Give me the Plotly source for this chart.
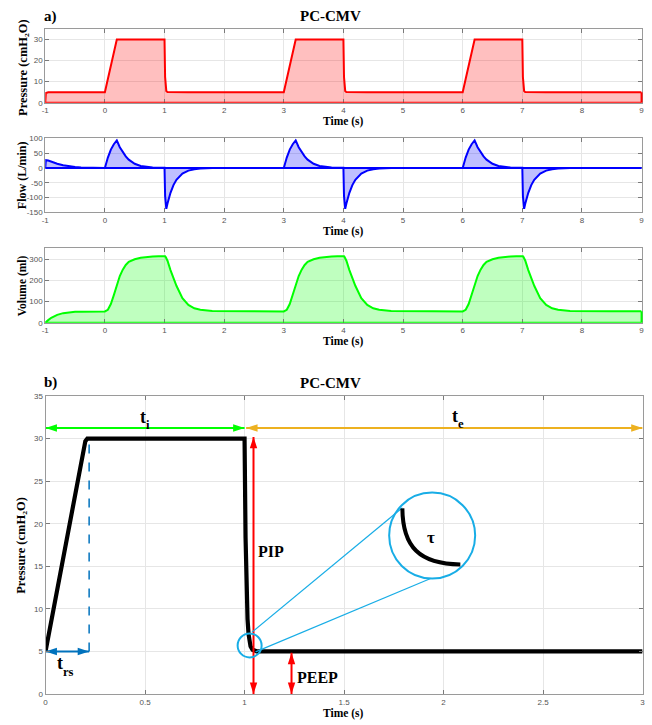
import plotly.graph_objects as go

# ---------------- Data: panel a (PC-CMV waveforms, 3 breaths) ----------------
time_a = [
    -1.00, -0.99, -0.95, -0.90, -0.80, -0.70, -0.60, -0.50, -0.40, -0.20,
    0.00, 0.05, 0.10, 0.15, 0.20, 0.25, 0.30, 0.35, 0.40, 0.50, 0.60, 0.70, 0.80, 0.90,
    1.00, 1.01, 1.02, 1.03, 1.05, 1.10, 1.15, 1.20, 1.30, 1.40, 1.50, 1.60, 1.80, 2.00, 2.50,
    3.00, 3.05, 3.10, 3.15, 3.20, 3.25, 3.30, 3.35, 3.40, 3.50, 3.60, 3.70, 3.80, 3.90,
    4.00, 4.01, 4.02, 4.03, 4.05, 4.10, 4.15, 4.20, 4.30, 4.40, 4.50, 4.60, 4.80, 5.00, 5.50,
    6.00, 6.05, 6.10, 6.15, 6.20, 6.25, 6.30, 6.35, 6.40, 6.50, 6.60, 6.70, 6.80, 6.90,
    7.00, 7.01, 7.02, 7.03, 7.05, 7.10, 7.15, 7.20, 7.30, 7.40, 7.50, 7.60, 7.80, 8.00, 8.50,
    9.00,
]
pressure_a = [
    0, 4.6, 5, 5, 5, 5, 5, 5, 5, 5,
    5, 11.25, 17.5, 23.75, 30, 30, 30, 30, 30, 30, 30, 30, 30, 30,
    30, 12.2, 7.0, 5.6, 5.05, 5, 5, 5, 5, 5, 5, 5, 5, 5, 5,
    5, 11.25, 17.5, 23.75, 30, 30, 30, 30, 30, 30, 30, 30, 30, 30,
    30, 12.2, 7.0, 5.6, 5.05, 5, 5, 5, 5, 5, 5, 5, 5, 5, 5,
    5, 11.25, 17.5, 23.75, 30, 30, 30, 30, 30, 30, 30, 30, 30, 30,
    30, 12.2, 7.0, 5.6, 5.05, 5, 5, 5, 5, 5, 5, 5, 5, 5, 5,
    5,
]
flow_a = [
    0, 26, 25, 21, 14, 9, 5.5, 3, 1.6, 0.4,
    0, 35, 62, 80, 93, 70, 52, 39, 28, 14, 6.5, 3, 1.4, 0.6,
    0.3, -95, -130, -138, -120, -84, -58, -40, -19, -9, -4.5, -2.1, -0.5, -0.1, 0,
    0, 35, 62, 80, 93, 70, 52, 39, 28, 14, 6.5, 3, 1.4, 0.6,
    0.3, -95, -130, -138, -120, -84, -58, -40, -19, -9, -4.5, -2.1, -0.5, -0.1, 0,
    0, 35, 62, 80, 93, 70, 52, 39, 28, 14, 6.5, 3, 1.4, 0.6,
    0.3, -95, -130, -138, -120, -84, -58, -40, -19, -9, -4.5, -2.1, -0.5, -0.1, 0,
    0,
]
volume_a = [
    0, 3, 12, 23, 37, 45, 49, 51, 52, 53,
    53, 61, 88, 130, 180, 220, 250, 272, 287, 299, 306, 310, 312, 313.5,
    315, 313, 309, 304, 292, 248, 212, 174, 115, 84, 68, 61, 55.5, 54, 53.5,
    53, 61, 88, 130, 180, 220, 250, 272, 287, 299, 306, 310, 312, 313.5,
    315, 313, 309, 304, 292, 248, 212, 174, 115, 84, 68, 61, 55.5, 54, 53.5,
    53, 61, 88, 130, 180, 220, 250, 272, 287, 299, 306, 310, 312, 313.5,
    315, 313, 309, 304, 292, 248, 212, 174, 115, 84, 68, 61, 55.5, 54, 53.5,
    53.5,
]

# ---------------- Data: panel b (one breath, pressure) ----------------
time_b = [0.00, 0.05, 0.10, 0.15, 0.19, 0.20, 0.21, 0.50, 1.00, 1.005, 1.01,
          1.015, 1.02, 1.025, 1.03, 1.04, 1.05, 1.06, 1.10, 2.00, 3.00]
pressure_b = [5, 11.25, 17.5, 23.75, 28.8, 29.7, 30, 30, 30, 18.4, 12.2,
              8.8, 7.05, 6.1, 5.6, 5.2, 5.05, 5.02, 5, 5, 5]

# ---------------- Tick labels ----------------
xticks_a = [-1, 0, 1, 2, 3, 4, 5, 6, 7, 8, 9]
xticklabels_a = ["-1", "0", "1", "2", "3", "4", "5", "6", "7", "8", "9"]
pticks_a = [0, 10, 20, 30]
pticklabels_a = ["0", "10", "20", "30"]
fticks_a = [-150, -100, -50, 0, 50, 100]
fticklabels_a = ["-150", "-100", "-50", "0", "50", "100"]
vticks_a = [0, 100, 200, 300]
vticklabels_a = ["0", "100", "200", "300"]
xticks_b = [0, 0.5, 1, 1.5, 2, 2.5, 3]
xticklabels_b = ["0", "0.5", "1", "1.5", "2", "2.5", "3"]
yticks_b = [0, 5, 10, 15, 20, 25, 30, 35]
yticklabels_b = ["0", "5", "10", "15", "20", "25", "30", "35"]

# ---------------- Figure ----------------
W, H = 652, 725
SERIF = "Liberation Serif, Times New Roman, serif"
SANS = "Liberation Sans, Arial, sans-serif"

fig = go.Figure()


def px_x(p):
    return p / W


def px_y(p):
    return 1 - p / H


common = dict(mode="lines", hoverinfo="skip", showlegend=False, fill="tozeroy")
fig.add_trace(go.Scatter(x=time_a, y=pressure_a, line=dict(color="#ff0000", width=2),
                         fillcolor="rgba(255,0,0,0.25)", xaxis="x", yaxis="y", **common))
fig.add_trace(go.Scatter(x=time_a, y=flow_a, line=dict(color="#0000ff", width=2),
                         fillcolor="rgba(0,0,255,0.25)", xaxis="x2", yaxis="y2", **common))
fig.add_trace(go.Scatter(x=time_a, y=volume_a, line=dict(color="#00ff00", width=2),
                         fillcolor="rgba(0,255,0,0.25)", xaxis="x3", yaxis="y3", **common))
fig.add_trace(go.Scatter(x=time_b, y=pressure_b, mode="lines", hoverinfo="skip", showlegend=False,
                         line=dict(color="#000000", width=4.2), xaxis="x4", yaxis="y4"))


def axis(domain, rng, vals, text, anchor):
    return dict(domain=domain, range=rng, anchor=anchor, tickmode="array", tickvals=vals,
                ticktext=text, showgrid=True, gridcolor="#e6e6e6", gridwidth=1, zeroline=False,
                showline=True, linecolor="#9a9a9a", linewidth=1, mirror="ticks", ticks="inside",
                ticklen=4, tickcolor="#7a7a7a", tickfont=dict(family=SANS, size=8, color="#555555"),
                fixedrange=True)


xa_dom = [px_x(41.7), px_x(644.5)]
xb_dom = [px_x(42.0), px_x(645.5)]
fig.update_layout(
    width=W, height=H, margin=dict(l=0, r=0, t=0, b=0),
    paper_bgcolor="white", plot_bgcolor="white",
    xaxis=axis(xa_dom, [-1, 9], xticks_a, xticklabels_a, "y"),
    yaxis=axis([px_y(100), px_y(25.3)], [0, 35], pticks_a, pticklabels_a, "x"),
    xaxis2=axis(xa_dom, [-1, 9], xticks_a, xticklabels_a, "y2"),
    yaxis2=axis([px_y(211), px_y(136)], [-150, 100], fticks_a, fticklabels_a, "x2"),
    xaxis3=axis(xa_dom, [-1, 9], xticks_a, xticklabels_a, "y3"),
    yaxis3=axis([px_y(322.7), px_y(247.5)], [0, 350], vticks_a, vticklabels_a, "x3"),
    xaxis4=axis(xb_dom, [0, 3], xticks_b, xticklabels_b, "y4"),
    yaxis4=axis([px_y(698.7), px_y(397)], [0, 35], yticks_b, yticklabels_b, "x4"),
)

# area edges (baseline and right closing edge) like MATLAB area()
for xr, yr, col, series in [("x", "y", "#ff0000", pressure_a), ("x2", "y2", "#0000ff", flow_a),
                            ("x3", "y3", "#00ff00", volume_a)]:
    fig.add_shape(type="line", xref=f"{xr} domain", yref=yr, x0=0, x1=1, y0=0, y1=0,
                  line=dict(color=col, width=2))
    fig.add_shape(type="line", xref=f"{xr} domain", yref=yr, x0=1, x1=1, y0=0, y1=series[-1],
                  line=dict(color=col, width=2))

CYAN = "#18ade6"
BLUE = "#0072BD"
# dashed rise-time marker
fig.add_shape(type="line", xref="x4", yref="y4", x0=0.219, x1=0.219, y0=5, y1=30,
              line=dict(color=BLUE, width=1.5, dash="dash"))
# zoom circles and tangent lines
fig.add_shape(type="circle", xref="x4", yref="y4", xsizemode="pixel", ysizemode="pixel",
              xanchor=1.0255, yanchor=5.71, x0=-12, x1=12, y0=-12, y1=12,
              line=dict(color=CYAN, width=2))
fig.add_shape(type="circle", xref="x4", yref="y4", xsizemode="pixel", ysizemode="pixel",
              xanchor=1.9427, yanchor=18.61, x0=-43, x1=43, y0=-43, y1=43,
              line=dict(color=CYAN, width=2))
fig.add_shape(type="line", xref="x4", yref="y4", x0=1.0374, y0=7.27, x1=1.793, y1=21.89,
              line=dict(color=CYAN, width=1.2))
fig.add_shape(type="line", xref="x4", yref="y4", x0=1.0553, y0=4.95, x1=1.935, y1=13.57,
              line=dict(color=CYAN, width=1.2))
fig.add_shape(type="path", xref="x4", yref="y4",
              path="M 1.793,21.81 C 1.7945,17.25 1.879,15.28 2.0843,15.22",
              line=dict(color="black", width=4))


# double-headed arrows drawn as line traces with arrow markers at both ends
def arrow(x0, y0, x1, y1, color, angles):
    fig.add_trace(go.Scatter(
        x=[x0, x1], y=[y0, y1], mode="lines+markers", hoverinfo="skip", showlegend=False,
        line=dict(color=color, width=2),
        marker=dict(symbol="arrow", size=12, angle=angles, color=color,
                    line=dict(width=0)),
        cliponaxis=False, xaxis="x4", yaxis="y4"))


arrow(0, 31.25, 1.0, 31.25, "#00ff00", [270, 90])
arrow(1.008, 31.25, 3.0, 31.25, "#EDB120", [270, 90])
arrow(0, 5, 0.219, 5, BLUE, [270, 90])
arrow(1.045, 0, 1.045, 30.2, "#ff0000", [180, 0])
arrow(1.236, 0, 1.236, 4.85, "#ff0000", [180, 0])

anns = []


def txt(text, px, py, size, **kw):
    d = dict(text=text, x=px_x(px), y=px_y(py), xref="paper", yref="paper", showarrow=False,
             font=dict(family=SERIF, size=size, color="black"), xanchor="center", yanchor="middle")
    d.update(kw)
    return d


# panel labels and titles
anns.append(txt("<b>a)</b>", 47, 12.5, 15))
anns.append(txt("<b>PC-CMV</b>", 330, 12.5, 15))
anns.append(txt("<b>b)</b>", 47, 383.5, 15))
anns.append(txt("<b>PC-CMV</b>", 330, 384, 15))
# x titles
for py in [118.5, 230, 341.5, 718.5]:
    anns.append(txt("<b>Time (s)</b>", 343, py, 11.5))
# y titles
anns.append(txt("<b>Pressure (cmH₂O)</b>", 19, 64, 12.5, textangle=-90))
anns.append(txt("<b>Flow (L/min)</b>", 19, 173.5, 12, textangle=-90))
anns.append(txt("<b>Volume (ml)</b>", 19, 285, 11.5, textangle=-90))
anns.append(txt("<b>Pressure (cmH₂O)</b>", 17, 547.8, 12.5, textangle=-90))


def dtxt(text, x, y, size, **kw):
    d = dict(text=text, x=x, y=y, xref="x4", yref="y4", showarrow=False,
             font=dict(family=SERIF, size=size, color="black"), xanchor="center", yanchor="middle")
    d.update(kw)
    return d


# t with subscripts, drawn as main letter + smaller lowered subscript
for sub, xb, ym in [("i", 0.504, 32.6), ("e", 2.074, 32.7), ("rs", 0.089, 3.6)]:
    anns.append(dtxt("<b>t</b>", xb, ym, 18, xanchor="right", borderpad=0, borderwidth=0))
    anns.append(dtxt(f"<b>{sub}</b>", xb, ym - 1.0, 12.6, xanchor="left",
                     borderpad=0, borderwidth=0))
anns.append(dtxt("<b>PIP</b>", 1.058, 16.7, 16, xanchor="left"))
anns.append(dtxt("<b>PEEP</b>", 1.252, 1.9, 16, xanchor="left"))
anns.append(dtxt("<b>τ</b>", 1.936, 18.4, 17))

fig.update_layout(annotations=anns)
fig.write_html("out.html")
